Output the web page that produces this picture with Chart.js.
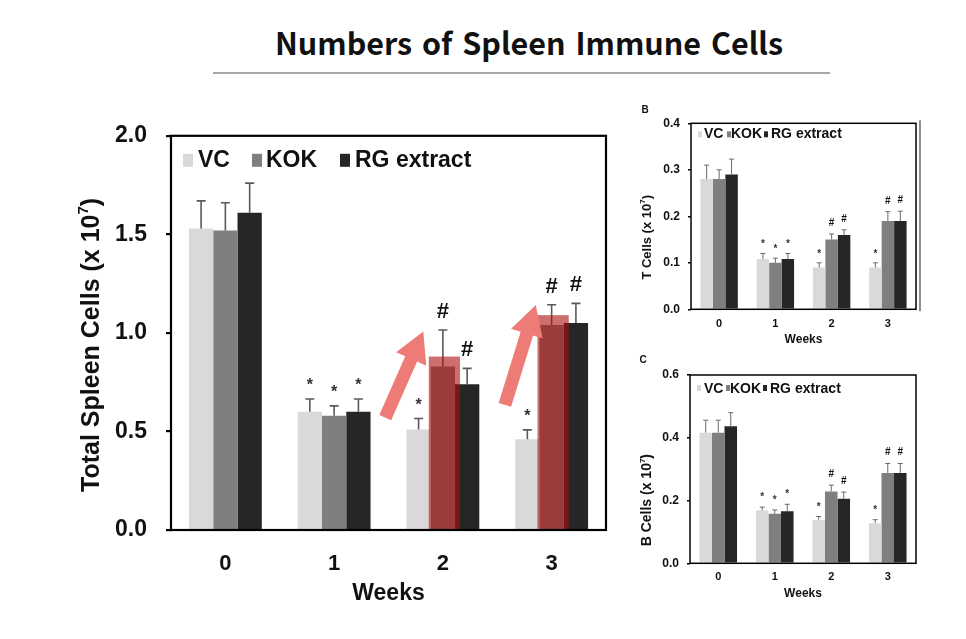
<!DOCTYPE html>
<html><head><meta charset="utf-8">
<script src="https://cdn.jsdelivr.net/npm/chart.js@4.4.1/dist/chart.umd.min.js"></script>
<style>
html,body{margin:0;padding:0;background:#fff;width:966px;height:639px;overflow:hidden;}
#title{position:absolute;top:22px;left:529px;transform:translateX(-50%);white-space:nowrap;font-family:"Noto Sans CJK KR","Noto Sans",sans-serif;font-weight:700;font-size:30.5px;line-height:40px;color:#111;word-spacing:3px;}
#rule{position:absolute;top:72px;left:213px;width:617px;height:2px;background:#a8a8a8;}
.box{position:absolute;}
</style></head><body>
<div id="title">Numbers of Spleen Immune Cells</div>
<div id="rule"></div>
<div class="box" style="left:40px;top:103px;width:590px;height:527px;"><canvas id="cA"></canvas></div>
<div class="box" style="left:630px;top:95px;width:300px;height:255px;"><canvas id="cB"></canvas></div>
<div class="box" style="left:630px;top:350px;width:300px;height:260px;"><canvas id="cC"></canvas></div>
<script>
// ---------- data ----------
const weeks = ['0', '1', '2', '3'];
const seriesNames = ['VC', 'KOK', 'RG extract'];

// A: Total spleen cells (x 10^7)
const totalVC = [1.53, 0.60, 0.51, 0.46];
const totalKOK = [1.52, 0.58, 0.83, 1.04];
const totalRG = [1.61, 0.60, 0.74, 1.05];
const totalVCErr = [0.14, 0.065, 0.056, 0.048];
const totalKOKErr = [0.14, 0.05, 0.185, 0.103];
const totalRGErr = [0.15, 0.065, 0.08, 0.10];
const totalKOKHighlight = [null, null, 0.88, 1.09];

// B: T cells (x 10^7)
const tVC = [0.28, 0.108, 0.09, 0.09];
const tKOK = [0.28, 0.10, 0.15, 0.19];
const tRG = [0.29, 0.108, 0.16, 0.19];
const tVCErr = [0.03, 0.012, 0.01, 0.01];
const tKOKErr = [0.02, 0.01, 0.012, 0.02];
const tRGErr = [0.033, 0.012, 0.011, 0.021];

// C: B cells (x 10^7)
const bVC = [0.416, 0.168, 0.139, 0.128];
const bKOK = [0.416, 0.158, 0.229, 0.288];
const bRG = [0.437, 0.166, 0.206, 0.288];
const bVCErr = [0.04, 0.011, 0.01, 0.011];
const bKOKErr = [0.04, 0.012, 0.02, 0.03];
const bRGErr = [0.043, 0.022, 0.021, 0.03];

// significance marks
const sigVC = ['', '*', '*', '*'];
const sigKOK = ['', '*', '#', '#'];
const sigRG = ['', '*', '#', '#'];

// ---------- styling ----------
const FONT = '"Liberation Sans", Arial, sans-serif';
const colors = ['#d9d9d9', '#7f7f7f', '#262626'];

function drawRotTitle(ctx, pre, sup, post, cx, cy, size) {
  ctx.save();
  ctx.translate(cx, cy);
  ctx.rotate(-Math.PI / 2);
  const f1 = 'bold ' + size + 'px ' + FONT;
  const f2 = 'bold ' + Math.round(size * 0.6) + 'px ' + FONT;
  ctx.font = f1; const w1 = ctx.measureText(pre).width; const w3 = ctx.measureText(post).width;
  ctx.font = f2; const w2 = ctx.measureText(sup).width;
  let x = -(w1 + w2 + w3) / 2;
  ctx.fillStyle = '#111';
  ctx.textBaseline = 'middle';
  ctx.textAlign = 'left';
  ctx.font = f1; ctx.fillText(pre, x, 0);
  ctx.font = f2; ctx.fillText(sup, x + w1, -size * 0.33);
  ctx.font = f1; ctx.fillText(post, x + w1 + w2, 0);
  ctx.restore();
}

const decorPlugin = {
  id: 'decor',
  afterDatasetsDraw(chart, args, o) {
    const ctx = chart.ctx;
    const a = chart.chartArea;
    const yS = chart.scales.y;
    const xS = chart.scales.x;
    ctx.save();
    // error bars
    chart.data.datasets.forEach((ds, i) => {
      const meta = chart.getDatasetMeta(i);
      meta.data.forEach((el, j) => {
        const yb = yS.getPixelForValue(ds.data[j]);
        const yt = yS.getPixelForValue(ds.data[j] + ds.errs[j]);
        ctx.strokeStyle = o.errColor;
        ctx.lineWidth = o.errWidth;
        ctx.beginPath();
        ctx.moveTo(el.x, yb); ctx.lineTo(el.x, yt);
        ctx.moveTo(el.x - o.cap / 2, yt); ctx.lineTo(el.x + o.cap / 2, yt);
        ctx.stroke();
      });
    });
    // highlight overlay
    if (o.highlight) {
      const h = o.highlight;
      const meta = chart.getDatasetMeta(h.dataset);
      h.tops.forEach((t, j) => {
        if (t == null) return;
        const el = meta.data[j];
        const l = el.x - el.width / 2 - h.padL;
        const r = el.x + el.width / 2 + h.padR;
        const y0 = yS.getPixelForValue(0);
        const y1 = yS.getPixelForValue(t);
        ctx.fillStyle = h.color;
        ctx.fillRect(l, y1, r - l, y0 - y1);
      });
    }
    // arrows
    if (o.arrows) {
      o.arrows.forEach(ar => {
        const cw = xS.getPixelForValue(1) - xS.getPixelForValue(0);
        const cx = xS.getPixelForValue(ar.week);
        const x0 = cx + ar.from[0] * cw, y0 = yS.getPixelForValue(ar.from[1]);
        const x1 = cx + ar.to[0] * cw, y1 = yS.getPixelForValue(ar.to[1]);
        const dx = x1 - x0, dy = y1 - y0, L = Math.hypot(dx, dy);
        const ux = dx / L, uy = dy / L, nx = -uy, ny = ux;
        const bx = x1 - ux * o.arrowStyle.head, by = y1 - uy * o.arrowStyle.head;
        const sw = o.arrowStyle.shaft / 2, hw = o.arrowStyle.headW / 2;
        ctx.fillStyle = o.arrowStyle.color;
        ctx.beginPath();
        ctx.moveTo(x0 + nx * sw, y0 + ny * sw);
        ctx.lineTo(bx + nx * sw, by + ny * sw);
        ctx.lineTo(bx + nx * hw, by + ny * hw);
        ctx.lineTo(x1, y1);
        ctx.lineTo(bx - nx * hw, by - ny * hw);
        ctx.lineTo(bx - nx * sw, by - ny * sw);
        ctx.lineTo(x0 - nx * sw, y0 - ny * sw);
        ctx.closePath();
        ctx.fill();
      });
    }
    // significance marks
    chart.data.datasets.forEach((ds, i) => {
      const meta = chart.getDatasetMeta(i);
      meta.data.forEach((el, j) => {
        const s = ds.sig[j];
        if (!s) return;
        const yt = yS.getPixelForValue(ds.data[j] + ds.errs[j]);
        ctx.textAlign = 'center';
        ctx.textBaseline = 'alphabetic';
        if (s === '*') {
          ctx.font = 'bold ' + o.starSize + 'px ' + FONT;
          ctx.fillStyle = '#333';
          ctx.fillText('*', el.x, yt - o.starOff);
        } else {
          ctx.font = 'bold ' + o.hashSize + 'px ' + FONT;
          ctx.fillStyle = '#111';
          ctx.fillText('#', el.x, yt - o.hashOff);
        }
      });
    });
    // frame
    ctx.strokeStyle = '#000';
    ctx.lineWidth = o.frameW;
    ctx.strokeRect(a.left, a.top, a.right - a.left, a.bottom - a.top);
    if (o.extraRight) {
      ctx.lineWidth = 1.2;
      ctx.strokeStyle = '#444';
      ctx.beginPath();
      ctx.moveTo(a.right + o.extraRight, a.top - 3);
      ctx.lineTo(a.right + o.extraRight, a.bottom + 2);
      ctx.stroke();
    }
    // legend
    const lg = o.legend;
    ctx.font = 'bold ' + lg.size + 'px ' + FONT;
    ctx.textAlign = 'left';
    ctx.textBaseline = 'alphabetic';
    seriesNames.forEach((n, i) => {
      ctx.fillStyle = colors[i];
      ctx.fillRect(a.left + lg.sq[i], a.top + lg.sqTop, lg.sqW, lg.sqH);
      ctx.fillStyle = '#111';
      ctx.fillText(n, a.left + lg.tx[i], a.top + lg.base);
    });
    // y title
    const yt = o.yTitle;
    drawRotTitle(ctx, yt.pre, '7', ')', a.left + yt.dx, (a.top + a.bottom) / 2 + yt.dy, yt.size);
    // panel letter
    if (o.panel) {
      ctx.font = 'bold ' + o.panel.size + 'px ' + FONT;
      ctx.fillStyle = '#111';
      ctx.textAlign = 'center';
      ctx.textBaseline = 'middle';
      ctx.fillText(o.panel.text, a.left + o.panel.dx, a.top + o.panel.dy);
    }
    ctx.restore();
  }
};

function makeChart(id, vals, errs, o) {
  const sigs = [sigVC, sigKOK, sigRG];
  return new Chart(document.getElementById(id), {
    type: 'bar',
    data: {
      labels: weeks,
      datasets: vals.map((v, i) => ({
        label: seriesNames[i], data: v, errs: errs[i], sig: sigs[i],
        backgroundColor: colors[i], borderWidth: 0,
        categoryPercentage: o.catPct, barPercentage: 1.0
      }))
    },
    options: {
      responsive: true, maintainAspectRatio: false, animation: false,
      layout: { padding: o.padding },
      plugins: { legend: { display: false }, tooltip: { enabled: false }, decor: o.decor },
      scales: {
        x: {
          grid: { display: false, drawTicks: false }, border: { display: false },
          ticks: { font: { family: FONT, size: o.xTick, weight: 'bold' }, color: '#111', padding: o.xPad },
          title: { display: true, text: 'Weeks', color: '#111', font: { family: FONT, size: o.xTitle, weight: 'bold' }, padding: { top: 0, bottom: o.xTitlePB } },
          afterFit: s => { s.height = o.xHeight; }
        },
        y: {
          min: 0, max: o.max,
          ticks: { stepSize: o.step, callback: v => Number(v).toFixed(1), font: { family: FONT, size: o.yTick, weight: 'bold' }, color: '#111', padding: o.yPad },
          grid: { drawOnChartArea: false, drawTicks: true, tickLength: o.tickLen, color: '#000', lineWidth: o.decor.frameW },
          border: { display: false },
          afterFit: s => { s.width = o.yWidth; }
        }
      }
    },
    plugins: [decorPlugin]
  });
}

// A
makeChart('cA', [totalVC, totalKOK, totalRG], [totalVCErr, totalKOKErr, totalRGErr], {
  catPct: 0.67, padding: { left: 0, top: 26, right: 24, bottom: 0 },
  xTick: 22, xPad: 21, xTitle: 23, xTitlePB: 23, xHeight: 100,
  max: 2.0, step: 0.5, yTick: 23, yPad: 19, tickLen: 5, yWidth: 131,
  decor: {
    errColor: '#5a5a5a', errWidth: 1.6, cap: 9, frameW: 2.2,
    starSize: 16, starOff: 8.7, hashSize: 22, hashOff: 12,
    highlight: { dataset: 1, tops: totalKOKHighlight, padL: 2, padR: 5, color: 'rgba(172,15,15,0.6)' },
    arrows: [
      { week: 2, from: [-0.53, 0.57], to: [-0.18, 1.007] },
      { week: 3, from: [-0.43, 0.635], to: [-0.146, 1.142] }
    ],
    arrowStyle: { color: 'rgb(238,124,118)', shaft: 13, head: 30, headW: 33 },
    legend: { size: 23, sq: [12, 81, 169], tx: [27, 95, 184], sqTop: 18, sqW: 10, sqH: 13, base: 31 },
    yTitle: { pre: 'Total Spleen Cells (x 10', dx: -79, dy: 12, size: 25 }
  }
});

// B
makeChart('cB', [tVC, tKOK, tRG], [tVCErr, tKOKErr, tRGErr], {
  catPct: 0.665, padding: { left: 0, top: 28.3, right: 14, bottom: 0 },
  xTick: 11, xPad: 8, xTitle: 12, xTitlePB: 2.8, xHeight: 40.7,
  max: 0.4, step: 0.1, yTick: 12, yPad: 8, tickLen: 3, yWidth: 61,
  decor: {
    errColor: '#6a6a6a', errWidth: 1, cap: 5, frameW: 1.5,
    starSize: 10, starOff: 6.2, hashSize: 10, hashOff: 8,
    extraRight: 4,
    legend: { size: 14, sq: [7, 36, 73], tx: [13, 40, 80], sqTop: 8, sqW: 4, sqH: 6, base: 15 },
    yTitle: { pre: 'T Cells (x 10', dx: -44, dy: 21, size: 13 },
    panel: { text: 'B', dx: -46, dy: -13, size: 10 }
  }
});

// C
makeChart('cC', [bVC, bKOK, bRG], [bVCErr, bKOKErr, bRGErr], {
  catPct: 0.665, padding: { left: 0, top: 25, right: 14, bottom: 0 },
  xTick: 11, xPad: 7, xTitle: 12, xTitlePB: 9.5, xHeight: 46.7,
  max: 0.6, step: 0.2, yTick: 12, yPad: 8, tickLen: 3, yWidth: 60,
  decor: {
    errColor: '#6a6a6a', errWidth: 1, cap: 5, frameW: 1.5,
    starSize: 10, starOff: 6.8, hashSize: 10, hashOff: 8.5,
    legend: { size: 14, sq: [7, 36, 73], tx: [14, 40, 80], sqTop: 10, sqW: 4, sqH: 6, base: 18 },
    yTitle: { pre: 'B Cells (x 10', dx: -43, dy: 31, size: 14 },
    panel: { text: 'C', dx: -47, dy: -15, size: 10 }
  }
});
</script>
</body></html>
